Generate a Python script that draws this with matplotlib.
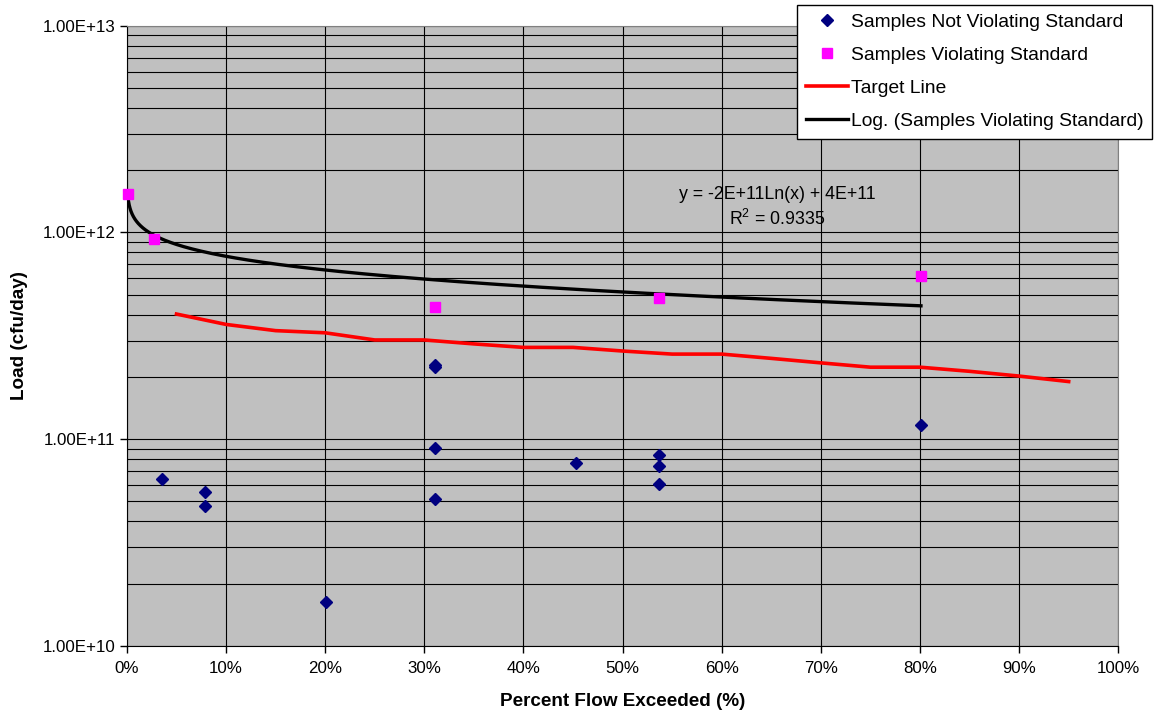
import numpy as np
import matplotlib
matplotlib.use("Agg")
import matplotlib.pyplot as plt
from matplotlib.ticker import FixedLocator, FuncFormatter, NullFormatter, LogLocator

plt.rcParams['font.family'] = ['Liberation Sans', 'DejaVu Sans']
plt.rcParams['mathtext.default'] = 'regular'

# samples below the standard (fraction of flow exceeded, cfu/day)
ok_x = [0.035, 0.079, 0.079, 0.201, 0.311, 0.311, 0.311, 0.311, 0.453, 0.537, 0.537, 0.537, 0.801]
ok_y = [6.39e10, 5.57e10, 4.75e10, 1.63e10, 2.29e11, 2.24e11, 9.02e10, 5.11e10,
        7.69e10, 8.38e10, 7.41e10, 6.06e10, 1.17e11]

# samples over the standard
bad_x = [0.001, 0.027, 0.311, 0.537, 0.801]
bad_y = [1.53e12, 9.29e11, 4.37e11, 4.81e11, 6.15e11]

# target load curve
target_x = [0.05, 0.10, 0.15, 0.20, 0.25, 0.30, 0.35, 0.40, 0.45, 0.50,
            0.55, 0.60, 0.65, 0.70, 0.75, 0.80, 0.85, 0.90, 0.95]
target_y = [4.03e11, 3.59e11, 3.35e11, 3.27e11, 3.02e11, 3.02e11, 2.89e11, 2.78e11, 2.78e11, 2.67e11,
            2.58e11, 2.58e11, 2.46e11, 2.34e11, 2.23e11, 2.23e11, 2.13e11, 2.02e11, 1.90e11]

# log trendline fitted to the violating samples (like Excel's)
slope, icept = np.polyfit(np.log(bad_x), bad_y, 1)
fit_x = np.geomspace(min(bad_x), max(bad_x), 300)
fit_y = slope * np.log(fit_x) + icept

fig = plt.figure(figsize=(11.54, 7.13), dpi=100)
ax = fig.add_axes([0.110, 0.094, 0.859, 0.870])
ax.set_facecolor('#C0C0C0')

ax.set_yscale('log')
ax.set_ylim(1e10, 1e13)
ax.set_xlim(0, 1)

ax.grid(True, which='major', color='black', linewidth=0.8)
ax.grid(True, which='minor', axis='y', color='black', linewidth=0.8)
ax.set_axisbelow(True)

ax.plot(ok_x, ok_y, linestyle='none', marker='D', markersize=5.7, color='#000080',
        label='Samples Not Violating Standard', zorder=4, clip_on=False)
ax.plot(bad_x, bad_y, linestyle='none', marker='s', markersize=7.5, color='#FF00FF',
        label='Samples Violating Standard', zorder=4, clip_on=False)
ax.plot(target_x, target_y, color='#FF0000', linewidth=2.6, label='Target Line', zorder=3)
ax.plot(fit_x, fit_y, color='black', linewidth=2.4,
        label='Log. (Samples Violating Standard)', zorder=3)

ax.text(0.656, 0.707, 'y = -2E+11Ln(x) + 4E+11\nR$^2$ = 0.9335', transform=ax.transAxes,
        ha='center', va='center', fontsize=12.8, linespacing=1.4)

ax.xaxis.set_major_locator(FixedLocator(np.arange(0, 1.01, 0.1)))
ax.xaxis.set_major_formatter(FuncFormatter(lambda v, p: f'{v*100:.0f}%'))
ax.yaxis.set_major_locator(LogLocator(base=10, numticks=10))
ax.yaxis.set_major_formatter(FuncFormatter(lambda v, p: f'{v:.2E}'))
ax.yaxis.set_minor_formatter(NullFormatter())
ax.tick_params(axis='both', which='major', direction='out', length=5, labelsize=12.2, width=1)
ax.tick_params(axis='x', which='major', pad=6)
ax.tick_params(axis='y', which='minor', length=0)

for side in ['top', 'right']:
    ax.spines[side].set_color('#808080')
for side in ['left', 'bottom']:
    ax.spines[side].set_color('black')

ax.set_xlabel('Percent Flow Exceeded (%)', fontsize=13.6, fontweight='bold', labelpad=12)
ax.set_ylabel('Load (cfu/day)', fontsize=13.6, fontweight='bold', labelpad=10)

leg = ax.legend(loc='upper left', bbox_to_anchor=(0.6906, 0.993), bbox_transform=fig.transFigure,
                borderaxespad=0, fontsize=13.9, frameon=True, fancybox=False,
                edgecolor='black', facecolor='white', framealpha=1,
                handlelength=2.2, handletextpad=0.15, labelspacing=0.8, borderpad=0.45)
leg.get_frame().set_linewidth(1.0)

fig.savefig('out.png', dpi=100)
